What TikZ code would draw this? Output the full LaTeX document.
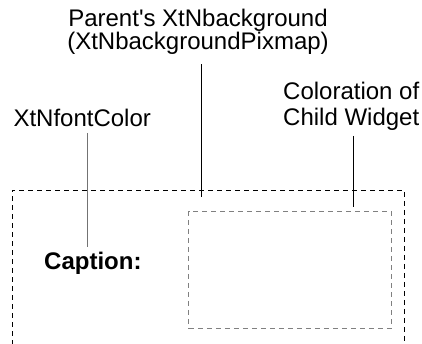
\documentclass[tikz,border=0pt]{standalone}
\usepackage{fontspec}
\setmainfont{Liberation Sans}
\begin{document}
\begin{tikzpicture}[x=1pt,y=1pt,
  label/.style={inner sep=0pt, font=\fontsize{24}{26.5}\selectfont},
  frame/.style={draw=black, line width=0.9pt, dash pattern=on 5pt off 4pt},
  childframe/.style={draw=gray, line width=0.9pt, dash pattern=on 5pt off 4pt},
  lead/.style={draw=black, line width=0.9pt},
  graylead/.style={draw=gray!90!black, line width=1.4pt}]
\useasboundingbox (0,0) rectangle (422,344);
\begin{scope}
\clip (0,0) rectangle (422,344);
% parent widget area, open at the bottom
\draw[frame] (12.3,-10) |- (404.3,154) -- (404.3,-10);
\end{scope}
% child widget
\node (child) [childframe, inner sep=0pt, minimum width=202.4pt, minimum height=117.4pt, anchor=north west] at (188.3,133.3) {};
% labels (base anchor sits on the last line)
\node (parent) [label, font=\fontsize{24}{23.5}\selectfont, align=center, anchor=base] at (198,294) {Parent\textquotesingle s XtNbackground\\(XtNbackgroundPixmap)};
\node (fc) [label, anchor=base west] at (13.3,217.3) {XtNfontColor};
\node (col) [label, align=left, anchor=base west] at (283,218.3) {Coloration of\\Child Widget};
\node (cap) [label, font=\fontsize{24}{25}\selectfont\bfseries, anchor=base west] at (44,74) {Caption:};
% leader lines
\coordinate (fcA) at (87.3,211);
\coordinate (fcB) at (87.3,97);
\coordinate (pA) at (201.3,279.7);
\coordinate (pB) at (201.3,146.7);
\coordinate (cA) at (353.3,208);
\coordinate (cB) at (353.3,136.7);
\draw[graylead] (fcA) -- (fcB);
\draw[lead] (pA) -- (pB);
\draw[lead] (cA) -- (cB);
\end{tikzpicture}
\end{document}
